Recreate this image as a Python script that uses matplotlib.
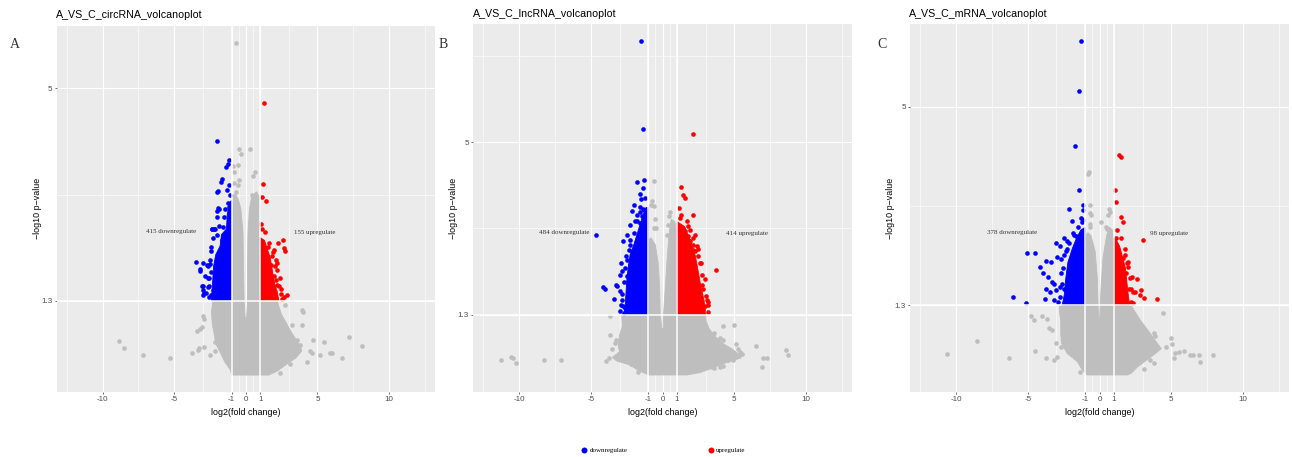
import matplotlib
matplotlib.use("Agg")
import matplotlib.pyplot as plt
from matplotlib.lines import Line2D

plt.rcParams['font.family'] = ['Liberation Sans', 'DejaVu Sans']

# ---------------- data ----------------
panel_titles = ["A_VS_C_circRNA_volcanoplot", "A_VS_C_lncRNA_volcanoplot", "A_VS_C_mRNA_volcanoplot"]
panel_letters = ["A", "B", "C"]
down_counts = [415, 484, 378]
up_counts = [155, 414, 98]
x_breaks = [-10, -5, -1, 0, 1, 5, 10]
x_break_labels = ["-10", "-5", "-1", "0", "1", "5", "10"]
y_breaks = [1.3, 5]
y_break_labels = ["1.3", "5"]
fc_cut = 1
p_cut = 1.3
x_limits = [-12, 12]

# ---- circRNA ----
circ_gray_core_x = [-0.98, 1.6, 2.2, 2.9, 3.5, 3.9, 3.8, 3.5, 3.1, 2.8, 2.5, 2.3, 2.2, 1.0, 1.0, 0.95, 0.75, 0.55, 0.4, 0.25,
                    0.15, 0.12, 0.12, 0.05, -0.05, -0.12, -0.17, -0.2, -0.35, -0.5, -0.7, -0.85, -1.0, -1.0, -2.3, -2.4, -2.35, -2.2, -2.1, -1.8,
                    -1.45, -1.1]
circ_gray_core_y = [0.0, 0.0, 0.07, 0.2, 0.3, 0.42, 0.5, 0.62, 0.78, 0.92, 1.05, 1.2, 1.3, 1.3, 3.0, 3.1, 3.2, 3.15, 3.1, 2.9,
                    2.5, 2.0, 1.3, 1.0, 1.0, 1.3, 2.0, 2.5, 2.9, 3.05, 3.15, 3.15, 3.05, 1.3, 1.3, 1.1, 0.9, 0.7, 0.55, 0.4,
                    0.22, 0.1]
circ_gray_x = [-8.88, -8.47, -7.19, -5.28, -3.77, -3.31, -3.30, -3.07, -3.19, -2.95, -2.96, -2.53, -2.91, -3.42, -2.14, -2.14,
               3.95, 3.98, 3.90, 2.74, 4.72, 5.42, 7.23, 8.14, 5.19, 5.88, 6.00, 6.70, 4.26, 4.49, 4.60, 2.39, 3.09, 3.20, 3.56, 3.79,
               -0.67, -0.49, -0.32, 0.30, -0.58, -0.91, -0.82, 0.65, 0.51, -0.49, -0.58, -0.86, 0.42, -0.68, 0.53, -0.84]
circ_gray_y = [0.59, 0.48, 0.35, 0.30, 0.38, 0.43, 0.47, 0.84, 0.80, 0.97, 1.03, 0.35, 0.49, 0.77, 0.57, 0.42,
               1.14, 1.10, 0.88, 1.23, 0.61, 0.58, 0.67, 0.50, 0.35, 0.39, 0.38, 0.30, 0.23, 0.42, 0.39, 0.04, 0.20, 0.88, 0.62, 0.52,
               5.80, 3.94, 3.86, 3.95, 3.66, 3.64, 3.55, 3.55, 3.48, 3.40, 3.32, 3.35, 3.14, 3.20, 3.04, 3.08]
circ_down_core_x = [-1.0, -2.4, -2.35, -2.3, -2.25, -2.1, -1.8, -1.7, -1.35, -1.3, -1.15, -1.0]
circ_down_core_y = [1.3, 1.3, 1.5, 1.7, 1.9, 2.1, 2.25, 2.45, 2.55, 2.8, 3.0, 3.05]
circ_down_x = [-1.98, -1.19, -1.26, -1.40, -1.63, -1.74, -2.00, -1.91, -1.35, -1.21, -1.26, -1.91, -1.84, -1.98, -1.19,
               -2.02, -2.19, -2.35, -2.26, -2.40, -2.42, -3.51, -3.19, -2.53, -2.67, -3.02, -2.93, -3.02, -2.58, -2.67,
               -2.44, -2.26, -2.14, -1.91, -1.79, -1.67, -1.56,
               -2.37, -2.15, -2.96, -2.73, -3.19, -2.84, -2.61, -3.07, -3.00, -2.80, -2.60, -2.50, -2.45, -2.00, -1.85,
               -1.50, -1.45, -1.10, -2.60]
circ_down_y = [4.08, 3.76, 3.69, 3.63, 3.42, 3.36, 3.20, 3.22, 3.23, 3.31, 3.00, 2.91, 2.89, 2.87, 2.93,
               2.75, 2.55, 2.54, 2.39, 2.24, 2.17, 1.98, 1.85, 1.94, 1.90, 1.56, 1.43, 1.39, 1.69, 1.54,
               1.39, 1.49, 1.63, 1.90, 2.07, 2.36, 2.59,
               2.55, 2.55, 1.95, 1.92, 1.81, 1.72, 1.69, 1.55, 1.49, 1.43, 1.37, 2.00, 1.80, 2.45, 2.60,
               2.75, 2.90, 3.15, 1.55]
circ_up_core_x = [1.0, 2.3, 2.2, 2.0, 1.9, 1.8, 1.7, 1.5, 1.3, 1.0]
circ_up_core_y = [1.3, 1.3, 1.45, 1.6, 1.75, 1.9, 2.05, 2.2, 2.35, 2.4]
circ_up_x = [1.28, 1.21, 1.12, 1.40, 1.07, 2.58, 2.26, 2.67, 2.72, 1.93, 1.53, 1.81, 2.12, 1.74, 2.05, 2.16, 1.98,
             2.28, 2.44, 2.86, 2.63, 2.16,
             2.35, 2.45, 2.20, 1.90, 1.65, 1.35, 1.15, 2.50, 2.10]
circ_up_y = [4.74, 3.33, 3.11, 3.03, 2.64, 2.36, 2.30, 2.21, 2.17, 2.19, 2.24, 2.07, 2.01, 1.92, 1.90, 1.83, 1.72,
             1.56, 1.41, 1.39, 1.37, 1.58,
             1.70, 1.50, 1.95, 2.15, 2.30, 2.50, 2.55, 1.32, 1.65]

# ---- lncRNA ----
lnc_gray_core_x = [-0.97, 1.7, 2.6, 3.5, 4.4, 5.3, 5.3, 4.9, 4.2, 3.6, 3.25, 3.05, 3.0, 1.0, 1.0, 0.85, 0.6, 0.45, 0.32, 0.2,
                   0.07, 0.05, -0.05, -0.16, -0.2, -0.3, -0.5, -0.8, -1.0, -1.0, -2.85, -2.8, -3.0, -3.1, -3.0, -3.5, -3.2, -2.3, -1.7, -1.1]
lnc_gray_core_y = [0.0, 0.0, 0.05, 0.15, 0.26, 0.35, 0.45, 0.55, 0.68, 0.85, 1.0, 1.15, 1.3, 1.3, 3.1, 3.3, 3.35, 3.0, 2.5, 1.9,
                   1.3, 1.0, 1.0, 1.3, 1.9, 2.4, 2.8, 2.95, 2.9, 1.3, 1.3, 1.05, 0.85, 0.65, 0.5, 0.38, 0.3, 0.22, 0.1, 0.02]
lnc_gray_x = [-11.3, -10.6, -10.46, -10.2, -8.3, -7.09, -3.93, -3.76, -3.53, -3.69, -3.65, -3.30, -3.25, -2.90, -2.60, -2.20, -1.69,
              4.25, 5.00, 3.56, 3.50, 4.00, 4.20, 5.14, 5.30, 5.40, 5.53, 5.35, 4.90, 4.60, 3.56, 3.45, 4.00, 4.20, 6.54, 7.00, 7.27,
              6.97, 8.64, 8.73,
              -0.58, -0.74, -0.58, -0.51, -0.44, -0.58, -0.78, 0.54, 0.42, 0.36, 0.30]
lnc_gray_y = [0.32, 0.38, 0.37, 0.26, 0.32, 0.32, 0.31, 0.37, 0.55, 0.86, 1.26, 0.69, 0.76, 0.35, 0.30, 0.24, 0.06,
              1.05, 1.08, 0.90, 0.85, 0.80, 0.75, 0.66, 0.55, 0.50, 0.46, 0.40, 0.33, 0.33, 0.15, 0.18, 0.18, 0.20, 0.62, 0.37, 0.37,
              0.18, 0.53, 0.43,
              4.16, 3.73, 3.64, 3.35, 3.16, 3.16, 3.66, 3.50, 3.41, 3.23, 3.00]
lnc_down_core_x = [-1.0, -2.7, -2.6, -2.55, -2.5, -2.4, -2.25, -2.0, -1.7, -1.4, -1.15, -1.0]
lnc_down_core_y = [1.3, 1.3, 1.5, 1.75, 2.0, 2.3, 2.6, 2.8, 3.1, 3.4, 3.6, 3.6]
lnc_down_x = [-1.49, -1.33, -1.26, -1.78, -1.39, -1.55, -1.51, -2.02, -1.60, -1.39, -1.26, -2.14, -1.44, -1.90, -2.25, -1.60,
              -1.30, -2.48, -4.63, -2.76, -2.25, -2.37, -2.02, -2.48, -2.14, -2.83, -2.95, -2.48, -3.23, -3.14, -4.16,
              -4.04, -3.41, -2.83, -2.79, -2.95, -2.72,
              -2.90, -2.80, -2.70, -2.65, -2.55, -2.30, -2.00, -1.80, -1.55, -1.20, -3.00, -2.90, -2.60, -1.75]
lnc_down_y = [7.18, 5.29, 4.20, 4.14, 4.03, 3.89, 3.78, 3.66, 3.61, 3.57, 3.54, 3.52, 3.41, 3.30, 3.23, 3.27,
              3.34, 3.02, 3.02, 2.87, 2.91, 2.69, 2.62, 2.48, 2.37, 2.24, 2.14, 2.12, 1.94, 1.91, 1.89,
              1.84, 1.64, 1.61, 1.48, 1.37, 1.34,
              1.50, 1.75, 2.00, 2.30, 2.55, 2.80, 3.05, 3.30, 3.50, 3.80, 1.80, 2.40, 1.45, 3.45]
lnc_up_core_x = [1.0, 3.0, 2.9, 2.65, 2.45, 2.3, 1.95, 1.5, 1.0]
lnc_up_core_y = [1.3, 1.3, 1.6, 1.95, 2.3, 2.55, 2.9, 3.2, 3.3]
lnc_up_x = [2.12, 1.26, 1.42, 1.60, 2.16, 1.70, 1.19, 1.42, 1.60, 1.90, 1.81, 1.93, 2.12, 2.16, 2.28, 3.72, 2.98,
            2.75, 3.10, 3.14, 2.98, 2.86, 2.28, 2.40, 2.51, 2.67,
            3.15, 3.05, 2.85, 2.75, 2.60, 2.45, 2.15, 1.80, 1.30, 1.15, 3.20]
lnc_up_y = [5.19, 4.05, 3.87, 3.80, 3.43, 3.32, 3.38, 3.16, 3.09, 3.12, 2.98, 2.87, 2.80, 2.69, 2.66, 2.25, 2.07,
            1.94, 1.62, 1.56, 1.48, 1.41, 3.02, 2.77, 2.55, 2.41,
            1.35, 1.70, 1.85, 2.15, 2.40, 2.70, 2.95, 3.20, 3.45, 3.60, 1.50]

# ---- mRNA ----
mrna_gray_core_x = [-0.86, 1.93, 2.2, 2.65, 3.3, 3.9, 4.3, 4.0, 3.55, 2.85, 2.4, 2.2, 1.0, 1.0, 0.9, 0.7, 0.5, 0.25, 0.12, 0.05,
                    0.0, -0.05, -0.1, -0.15, -0.3, -0.6, -0.8, -1.0, -1.0, -2.8, -2.8, -2.7, -2.7, -2.65, -2.25, -1.55, -1.2]
mrna_gray_core_y = [0.0, 0.0, 0.03, 0.15, 0.28, 0.4, 0.49, 0.6, 0.77, 1.02, 1.21, 1.3, 1.3, 2.5, 2.7, 2.75, 2.6, 2.2, 1.7, 1.3,
                    1.0, 1.0, 1.3, 1.8, 2.3, 2.6, 2.65, 2.6, 1.3, 1.3, 1.2, 1.02, 0.77, 0.59, 0.4, 0.25, 0.09]
mrna_gray_x = [-10.65, -8.56, -6.31, -4.80, -4.57, -4.50, -3.76, -3.99, -3.64, -3.53, -3.29, -3.06, -2.71, -3.18, -2.95, -1.37,
               4.41, 4.99, 4.66, 5.29, 5.52, 5.87, 6.33, 6.50, 6.91, 6.98, 7.89, 5.17, 5.06, 3.55, 3.78, 3.90, 3.80, 3.09,
               -0.72, -0.79, -0.67, -0.63, -0.58, 0.65, 0.72, 0.56, 0.07, 0.42, 0.49, 0.65, -0.63, -0.67]
mrna_gray_y = [0.40, 0.64, 0.31, 1.09, 1.02, 0.45, 0.31, 1.09, 1.05, 0.87, 0.84, 0.59, 0.53, 0.28, 0.34, 0.06,
               1.16, 0.68, 0.52, 0.41, 0.43, 0.45, 0.37, 0.37, 0.37, 0.25, 0.37, 0.31, 0.57, 0.28, 0.23, 0.72, 0.78, 0.12,
               3.78, 3.74, 3.16, 3.02, 2.98, 3.10, 3.04, 2.98, 2.85, 2.76, 2.72, 2.63, 2.82, 2.75]
mrna_down_core_x = [-1.0, -2.6, -2.45, -2.35, -2.2, -1.9, -1.6, -1.3, -1.0]
mrna_down_core_y = [1.3, 1.3, 1.5, 1.8, 2.1, 2.35, 2.55, 2.7, 2.75]
mrna_down_x = [-1.28, -1.44, -1.72, -1.42, -2.09, -1.16, -1.16, -1.32, -1.16, -1.95, -1.79, -1.67, -2.48, -2.25, -3.04,
               -2.78, -5.08, -4.50, -3.71, -3.41, -4.11, -3.92, -3.60, -3.29, -3.18, -3.76, -3.46, -3.06, -2.74, -6.06,
               -3.83, -5.15, -3.18, -2.88, -2.95, -2.71, -2.44, -2.25,
               -2.75, -2.60, -2.55, -2.35, -2.10, -1.85, -1.50, -1.20, -2.70, -2.45]
mrna_down_y = [6.22, 5.29, 4.26, 3.44, 3.09, 3.16, 3.08, 2.93, 2.88, 2.87, 2.61, 2.58, 2.56, 2.50, 2.46,
               2.40, 2.28, 2.27, 2.13, 2.10, 2.01, 1.90, 1.83, 1.73, 1.69, 1.60, 1.55, 1.58, 1.64, 1.46,
               1.41, 1.34, 1.39, 1.36, 2.20, 2.16, 2.23, 2.34,
               1.45, 1.70, 2.00, 2.30, 2.45, 2.65, 2.75, 2.85, 1.90, 1.60]
mrna_up_core_x = [1.0, 2.1, 2.0, 1.9, 1.8, 1.6, 1.4, 1.2, 1.0]
mrna_up_core_y = [1.3, 1.3, 1.5, 1.75, 2.0, 2.2, 2.4, 2.5, 2.55]
mrna_up_x = [1.39, 1.53, 1.07, 1.18, 1.53, 1.67, 3.02, 1.18, 1.76, 1.65, 1.93, 1.97, 2.27, 2.62, 2.44, 2.92, 2.81,
             3.13, 4.04, 2.16, 2.04, 1.88,
             2.30, 2.20, 2.10, 2.00, 1.80, 1.50, 1.25, 2.35]
mrna_up_y = [4.09, 4.06, 3.44, 3.23, 2.94, 2.85, 2.52, 2.56, 2.23, 2.17, 2.09, 2.01, 1.82, 1.79, 1.55, 1.58, 1.49,
             1.44, 1.41, 1.36, 1.61, 1.90,
             1.35, 1.60, 1.80, 2.10, 2.35, 2.55, 2.70, 1.55]

panels = [
    dict(gcx=circ_gray_core_x, gcy=circ_gray_core_y, gx=circ_gray_x, gy=circ_gray_y,
         dcx=circ_down_core_x, dcy=circ_down_core_y, dx=circ_down_x, dy=circ_down_y,
         ucx=circ_up_core_x, ucy=circ_up_core_y, ux=circ_up_x, uy=circ_up_y),
    dict(gcx=lnc_gray_core_x, gcy=lnc_gray_core_y, gx=lnc_gray_x, gy=lnc_gray_y,
         dcx=lnc_down_core_x, dcy=lnc_down_core_y, dx=lnc_down_x, dy=lnc_down_y,
         ucx=lnc_up_core_x, ucy=lnc_up_core_y, ux=lnc_up_x, uy=lnc_up_y),
    dict(gcx=mrna_gray_core_x, gcy=mrna_gray_core_y, gx=mrna_gray_x, gy=mrna_gray_y,
         dcx=mrna_down_core_x, dcy=mrna_down_core_y, dx=mrna_down_x, dy=mrna_down_y,
         ucx=mrna_up_core_x, ucy=mrna_up_core_y, ux=mrna_up_x, uy=mrna_up_y),
]

# ---------------- layout / style ----------------
W, H = 1292, 457
GRAY, BLUE, RED = "#BEBEBE", "#0000FF", "#FF0000"
PANEL_BG = "#EBEBEB"
MS = 11
axes_px = [(56.7, 26.0, 435.0, 391.7), (473.3, 24.3, 851.7, 391.7), (910.0, 24.3, 1289.0, 391.7)]
letter_px = [(15, 44), (443, 44), (882, 45)]
label_down_pos = [(-5.2, 2.50), (-6.86, 3.07), (-6.1, 2.66)]
label_up_pos = [(4.8, 2.48), (5.9, 3.05), (4.85, 2.63)]
serif = ['Liberation Serif', 'DejaVu Serif']

fig = plt.figure(figsize=(W / 100, H / 100), dpi=100)
fig.patch.set_facecolor("white")

xr = x_limits[1] - x_limits[0]
xlim = (x_limits[0] - 0.05 * xr, x_limits[1] + 0.05 * xr)
xb = x_breaks
x_minor = [xb[0] - (xb[1] - xb[0]) / 2] + [(a + b) / 2 for a, b in zip(xb[:-1], xb[1:])] + [xb[-1] + (xb[-1] - xb[-2]) / 2]
yb = y_breaks
y_minor = [yb[0] - (yb[1] - yb[0]) / 2, (yb[0] + yb[1]) / 2, yb[1] + (yb[1] - yb[0]) / 2]

for i, d in enumerate(panels):
    l, t, r, b = axes_px[i]
    ax = fig.add_axes([l / W, 1 - b / H, (r - l) / W, (b - t) / H])
    ax.set_facecolor(PANEL_BG)
    for s in ax.spines.values():
        s.set_visible(False)

    ax.fill(d['gcx'], d['gcy'], color=GRAY, lw=0.6, zorder=2)
    ax.scatter(d['gx'], d['gy'], s=MS, c=GRAY, lw=0, zorder=2)
    ax.fill(d['dcx'], d['dcy'], color=BLUE, lw=0.6, zorder=3)
    ax.scatter(d['dx'], d['dy'], s=MS, c=BLUE, lw=0, zorder=3)
    ax.fill(d['ucx'], d['ucy'], color=RED, lw=0.6, zorder=3)
    ax.scatter(d['ux'], d['uy'], s=MS, c=RED, lw=0, zorder=3)

    ax.axvline(-fc_cut, color="white", lw=1.1, zorder=4)
    ax.axvline(fc_cut, color="white", lw=1.1, zorder=4)
    ax.axhline(p_cut, color="white", lw=1.1, zorder=4)

    ax.set_xticks(x_breaks)
    ax.set_xticklabels(x_break_labels)
    ax.set_yticks(y_breaks)
    ax.set_yticklabels(y_break_labels)
    ax.set_xticks(x_minor, minor=True)
    ax.set_yticks(y_minor, minor=True)

    all_y = d['gcy'] + d['gy'] + d['dcy'] + d['dy'] + d['ucy'] + d['uy']
    y0, y1 = min(all_y), max(all_y)
    yr = y1 - y0
    ax.set_ylim(y0 - 0.05 * yr, y1 + 0.05 * yr)
    ax.set_xlim(*xlim)

    ax.grid(which='major', color='white', lw=0.8, zorder=0)
    ax.grid(which='minor', color='white', lw=0.4, zorder=0)
    ax.set_axisbelow(True)
    ax.tick_params(which='major', length=1.6, width=0.5, color='#333333', labelsize=5.8,
                   labelcolor='#4D4D4D', pad=1.5)
    ax.tick_params(which='minor', length=0)

    ax.set_xlabel("log2(fold change)", fontsize=6.4)
    ax.xaxis.set_label_coords(0.5, -0.045)
    ax.set_ylabel("\u2212log10 p\u2212value", fontsize=6.4)
    ax.yaxis.set_label_coords(-0.04, 0.5)

    ax.text(-0.002, 1.029, panel_titles[i], transform=ax.transAxes, ha='left', va='center', fontsize=7.7)

    ax.text(label_down_pos[i][0], label_down_pos[i][1], f"{down_counts[i]} downregulate", family=serif,
            fontsize=5, color='#333333', ha='center', va='center', zorder=5)
    ax.text(label_up_pos[i][0], label_up_pos[i][1], f"{up_counts[i]} upregulate", family=serif,
            fontsize=5, color='#333333', ha='center', va='center', zorder=5)

    fig.text(letter_px[i][0] / W, 1 - letter_px[i][1] / H, panel_letters[i], family=serif,
             fontsize=10, color='#333333', ha='center', va='center')

# legend
h_down = Line2D([], [], marker='o', ls='none', color=BLUE, markersize=4.3, markeredgewidth=0)
h_up = Line2D([], [], marker='o', ls='none', color=RED, markersize=4.3, markeredgewidth=0)
for h, lab, xpx in [(h_down, "downregulate", 581), (h_up, "upregulate", 708)]:
    fig.legend(handles=[h], labels=[lab], loc='center left', bbox_to_anchor=(xpx / W, 1 - 450 / H),
               frameon=False, borderpad=0, borderaxespad=0, handlelength=0.9, handletextpad=0.3,
               prop={'family': serif, 'size': 5})

fig.savefig("out.png", dpi=100)
